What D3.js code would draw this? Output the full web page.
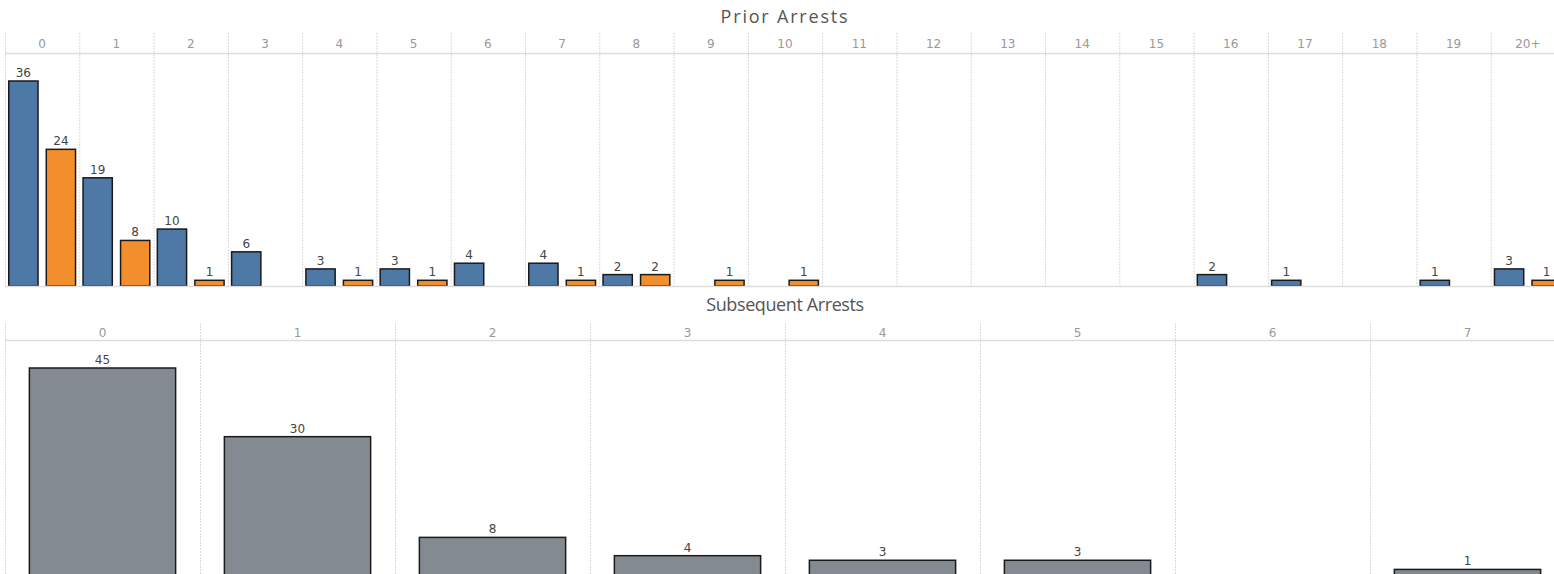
<!DOCTYPE html>
<html>
<head>
<meta charset="utf-8">
<script src="https://cdn.jsdelivr.net/npm/d3@7"></script>
<style>
  body { margin: 0; background: #fff; overflow: hidden; }
  text { font-family: "DejaVu Sans", sans-serif; }
  .title { font-family: "Open Sans", Lato, sans-serif; }
</style>
</head>
<body>
<div id="chart"></div>
<script>
var priorCats = ["0","1","2","3","4","5","6","7","8","9","10","11","12","13","14","15","16","17","18","19","20+"];
var priorBlue = [36,19,10,6,3,3,4,4,2,0,0,0,0,0,0,0,2,1,0,1,3];
var priorOrange = [24,8,1,0,1,1,0,1,2,1,1,0,0,0,0,0,0,0,0,0,1];
var seriesNames = ["blue","orange"];
var seriesColors = ["#4e79a7","#f28e2b"];

var subsCats = ["0","1","2","3","4","5","6","7"];
var subsValues = [45,30,8,4,3,3,0,1];

function init() {
    var width = 1554, height = 574;
    var left = 5, fullRight = 1565;

    var svg = d3.select("#chart")
        .append("svg")
        .attr("width", width)
        .attr("height", height);

    // ---------- top: Prior Arrests ----------
    var top = { title: 23, head: 33, headLine: 53, base: 286, maxTop: 81 };

    var x = d3.scaleBand()
        .domain(priorCats)
        .range([left, fullRight])
        .padding(0);

    var xs = d3.scaleBand()
        .domain(seriesNames)
        .range([0, x.bandwidth()])
        .paddingInner(0.22)
        .paddingOuter(0.1);

    var y = d3.scaleLinear()
        .domain([0, d3.max(priorBlue.concat(priorOrange))])
        .range([top.base, top.maxTop]);

    svg.append("text")
        .attr("class", "title")
        .attr("x", (left + fullRight) / 2)
        .attr("y", top.title)
        .attr("text-anchor", "middle")
        .style("font-size", "18px")
        .style("letter-spacing", "1.8px")
        .style("fill", "#555")
        .text("Prior Arrests");

    var g1 = svg.append("g");

    g1.selectAll(".vgrid")
        .data(priorCats)
        .enter()
        .append("line")
        .attr("x1", d => x(d) + 0.5)
        .attr("x2", d => x(d) + 0.5)
        .attr("y1", top.head)
        .attr("y2", top.base)
        .style("stroke", "#dadada")
        .style("stroke-dasharray", "2,1");

    g1.append("line")
        .attr("x1", left).attr("x2", width)
        .attr("y1", top.headLine + 0.5).attr("y2", top.headLine + 0.5)
        .style("stroke", "#ddd").style("stroke-width", 1.5);

    g1.selectAll(".hlab")
        .data(priorCats)
        .enter()
        .append("text")
        .attr("x", d => x(d) + x.bandwidth() / 2)
        .attr("y", 48)
        .attr("text-anchor", "middle")
        .style("font-size", "12px")
        .style("fill", "#999")
        .text(d => d);

    var rows = [];
    priorCats.forEach(function (c, i) {
        rows.push({ cat: c, s: "blue", v: priorBlue[i] });
        rows.push({ cat: c, s: "orange", v: priorOrange[i] });
    });
    var present = rows.filter(d => d.v > 0);

    g1.selectAll(".bar")
        .data(present)
        .enter()
        .append("rect")
        .attr("x", d => x(d.cat) + xs(d.s))
        .attr("y", d => y(d.v))
        .attr("width", xs.bandwidth())
        .attr("height", d => top.base - y(d.v))
        .style("fill", d => seriesColors[seriesNames.indexOf(d.s)])
        .style("stroke", "#1a1a1a")
        .style("stroke-width", 1.5);

    g1.selectAll(".val")
        .data(present)
        .enter()
        .append("text")
        .attr("x", d => x(d.cat) + xs(d.s) + xs.bandwidth() / 2)
        .attr("y", d => y(d.v) - 4)
        .attr("text-anchor", "middle")
        .style("font-size", "12px")
        .style("fill", "#444")
        .text(d => d.v);

    g1.append("line")
        .attr("x1", left).attr("x2", width)
        .attr("y1", top.base + 0.5).attr("y2", top.base + 0.5)
        .style("stroke", "#ddd").style("stroke-width", 1.5);

    // ---------- bottom: Subsequent Arrests ----------
    var bot = { title: 311, head: 323, headLine: 340, base: 574, maxTop: 368 };

    var x2 = d3.scaleBand()
        .domain(subsCats)
        .range([left, fullRight])
        .padding(0);

    var x2bar = d3.scaleBand()
        .domain(subsCats)
        .range([left, fullRight])
        .paddingInner(0.25)
        .paddingOuter(0.125);

    var y2 = d3.scaleLinear()
        .domain([0, d3.max(subsValues)])
        .range([bot.base, bot.maxTop]);

    svg.append("text")
        .attr("class", "title")
        .attr("x", (left + fullRight) / 2)
        .attr("y", bot.title)
        .attr("text-anchor", "middle")
        .style("font-size", "18px")
        .style("letter-spacing", "-0.4px")
        .style("fill", "#555")
        .text("Subsequent Arrests");

    var g2 = svg.append("g");

    g2.selectAll(".vgrid")
        .data(subsCats)
        .enter()
        .append("line")
        .attr("x1", d => x2(d) + 0.5)
        .attr("x2", d => x2(d) + 0.5)
        .attr("y1", bot.head)
        .attr("y2", bot.base)
        .style("stroke", "#dadada")
        .style("stroke-dasharray", "2,1");

    g2.append("line")
        .attr("x1", left).attr("x2", width)
        .attr("y1", bot.headLine + 0.5).attr("y2", bot.headLine + 0.5)
        .style("stroke", "#ddd").style("stroke-width", 1.5);

    g2.selectAll(".hlab")
        .data(subsCats)
        .enter()
        .append("text")
        .attr("x", d => x2(d) + x2.bandwidth() / 2)
        .attr("y", 337)
        .attr("text-anchor", "middle")
        .style("font-size", "12px")
        .style("fill", "#999")
        .text(d => d);

    var subsRows = subsCats.map((c, i) => ({ cat: c, v: subsValues[i] })).filter(d => d.v > 0);

    g2.selectAll(".bar")
        .data(subsRows)
        .enter()
        .append("rect")
        .attr("x", d => x2bar(d.cat))
        .attr("y", d => y2(d.v))
        .attr("width", x2bar.bandwidth())
        .attr("height", d => bot.base - y2(d.v) + 2)
        .style("fill", "#838a91")
        .style("stroke", "#1a1a1a")
        .style("stroke-width", 1.5);

    g2.selectAll(".val")
        .data(subsRows)
        .enter()
        .append("text")
        .attr("x", d => x2bar(d.cat) + x2bar.bandwidth() / 2)
        .attr("y", d => y2(d.v) - 4)
        .attr("text-anchor", "middle")
        .style("font-size", "12px")
        .style("fill", "#444")
        .text(d => d.v);
}

window.onload = init;
</script>
</body>
</html>
